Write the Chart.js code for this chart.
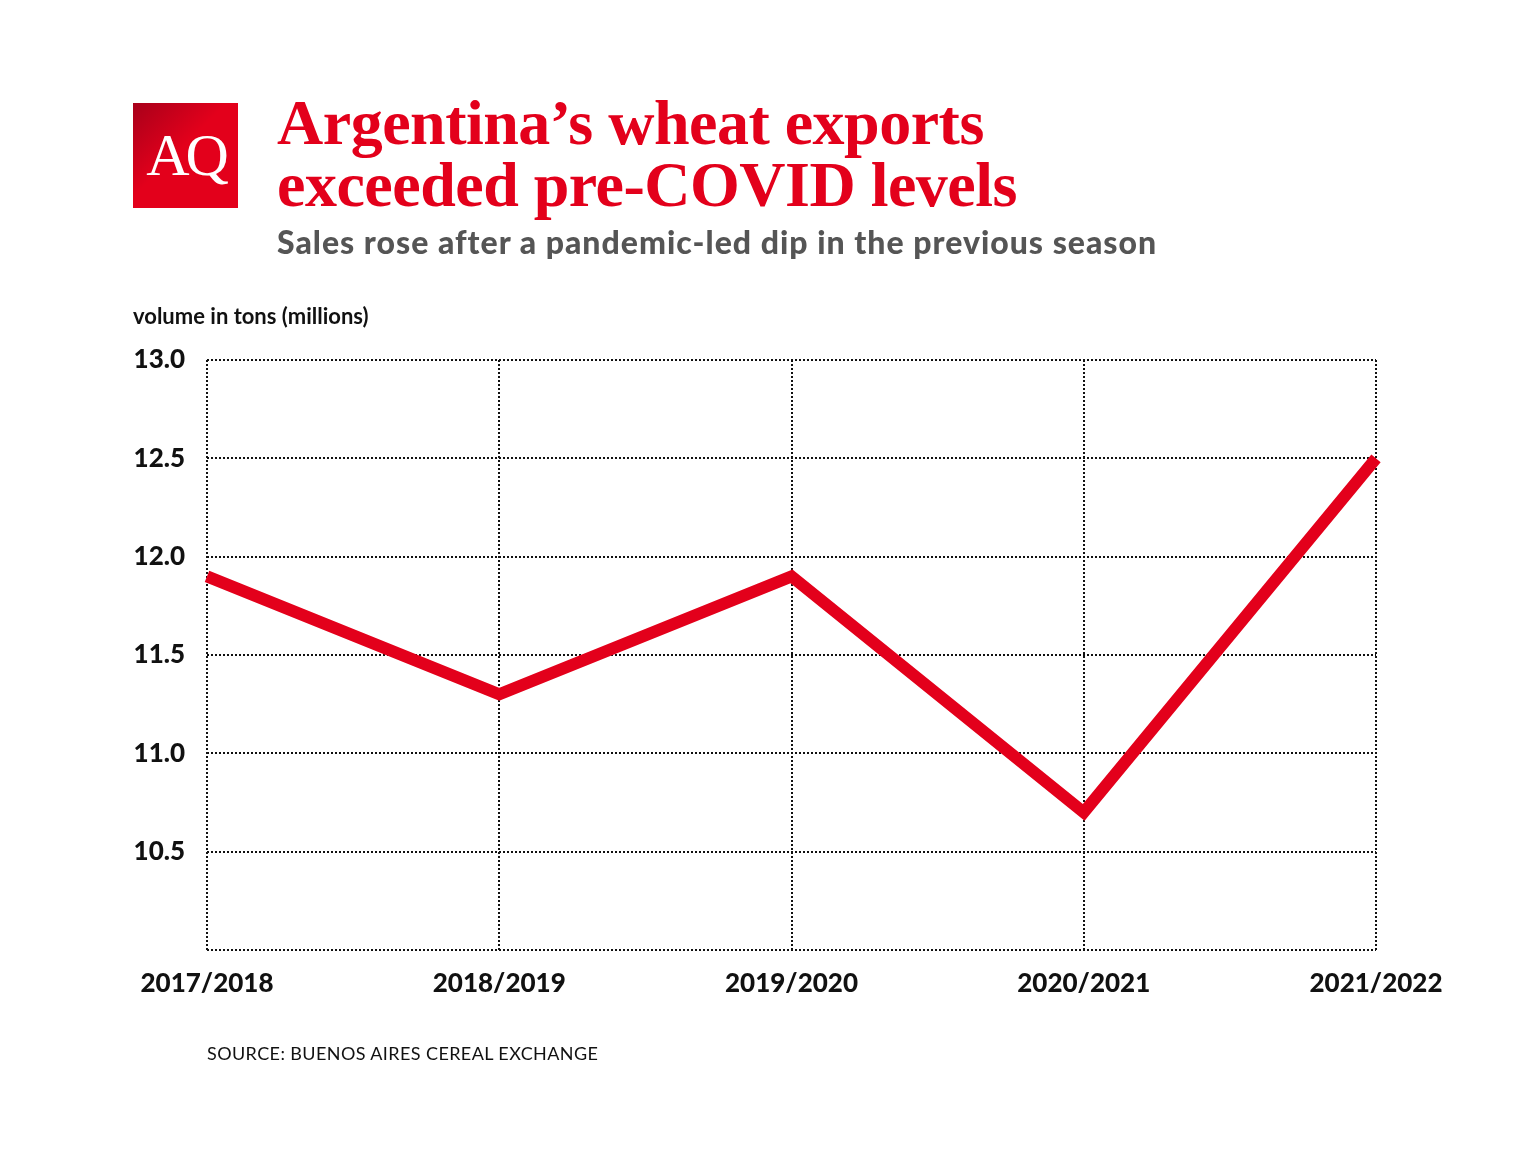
<!DOCTYPE html>
<html>
<head>
<meta charset="utf-8">
<script src="https://cdn.jsdelivr.net/npm/chart.js@4.4.1/dist/chart.umd.min.js"></script>
<style>
  html, body { margin: 0; padding: 0; background: #fff; }
  #wrap { position: relative; width: 1536px; height: 1152px; }
  #chart { position: absolute; left: 0; top: 0; }
  .logo {
    position: absolute; left: 133px; top: 103px; width: 105px; height: 105px;
    background: linear-gradient(135deg, #a8001a 0%, #e3001b 45%, #e3001b 100%);
    color: #fff; font-family: "Liberation Serif", serif; font-size: 60px;
    line-height: 105px; text-align: center; letter-spacing: -4px;
  }
  .title {
    position: absolute; left: 277px; top: 92px; color: #e3001b;
    font-family: "Liberation Serif", serif; font-weight: bold; font-size: 64px;
    line-height: 62px; letter-spacing: -0.5px;
  }
  .subtitle {
    position: absolute; left: 277px; top: 222px; color: #555;
    font-family: "Lato", sans-serif; font-weight: 900; font-size: 32px;
    letter-spacing: 1px;
  }
  .unit {
    position: absolute; left: 133px; top: 302px; color: #111;
    font-family: "Lato", sans-serif; font-weight: 700; font-size: 22px;
  }
  .source {
    position: absolute; left: 207px; top: 1042px; color: #111;
    font-family: "Lato", sans-serif; font-size: 18px; letter-spacing: 0.4px;
  }
</style>
</head>
<body>
<div id="wrap">
  <canvas id="chart" width="1536" height="1152"></canvas>
  <div class="logo">AQ</div>
  <div class="title">Argentina’s wheat exports<br>exceeded pre-COVID levels</div>
  <div class="subtitle">Sales rose after a pandemic-led dip in the previous season</div>
  <div class="unit">volume in tons (millions)</div>
  <div class="source">SOURCE: BUENOS AIRES CEREAL EXCHANGE</div>
</div>
<script>
// Exportaciones de trigo por campaña (millones de toneladas)
const temporadas = ['2017/2018', '2018/2019', '2019/2020', '2020/2021', '2021/2022'];
const exportaciones = [11.9, 11.3, 11.9, 10.7, 12.5];
const ticksY = [10.5, 11.0, 11.5, 12.0, 12.5, 13.0];

const rojo = '#e3001b';
const fuenteEjes = { family: 'Lato', weight: '900', size: 26 };

const ctx = document.getElementById('chart').getContext('2d');
const chart = new Chart(ctx, {
  type: 'line',
  data: {
    labels: temporadas,
    datasets: [{
      data: exportaciones,
      borderColor: rojo,
      borderWidth: 12,
      pointRadius: 0,
      tension: 0,
      fill: false
    }]
  },
  options: {
    responsive: false,
    animation: false,
    layout: { padding: { left: 0, right: 160, top: 360, bottom: 142 } },
    plugins: { legend: { display: false }, tooltip: { enabled: false } },
    scales: {
      x: {
        offset: false,
        afterFit: (s) => { s.height = 60; },
        grid: { color: '#111', lineWidth: 2, drawTicks: false },
        border: { display: false, dash: [2, 2] },
        ticks: { color: '#111', font: fuenteEjes, padding: 18, maxRotation: 0 }
      },
      y: {
        min: 10,
        max: 13,
        afterFit: (s) => { s.width = 207; },
        afterBuildTicks: (s) => {
          s.ticks = [10].concat(ticksY).map(v => ({ value: v }));
        },
        grid: { color: '#111', lineWidth: 2, drawTicks: false },
        border: { display: false, dash: [2, 2] },
        ticks: {
          color: '#111', font: fuenteEjes, padding: 22,
          callback: (v) => v === 10 ? '' : v.toFixed(1)
        }
      }
    }
  }
});
// lineas de la grilla punteadas
chart.options.scales.x.grid.borderDash = [2, 2];
chart.options.scales.y.grid.borderDash = [2, 2];
chart.update();
</script>
</body>
</html>
